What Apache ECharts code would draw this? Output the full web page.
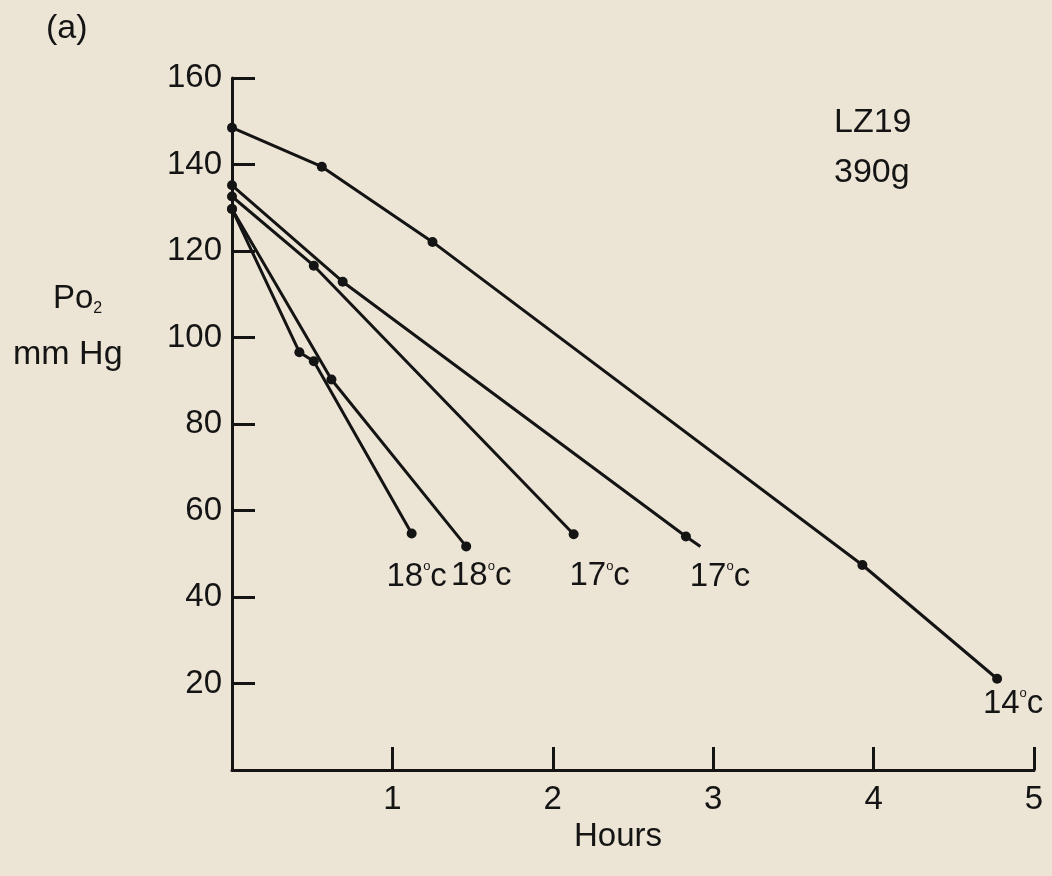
<!DOCTYPE html>
<html>
<head>
<meta charset="utf-8">
<script src="https://cdn.jsdelivr.net/npm/echarts@6/dist/echarts.min.js"></script>
<style>
  html, body { margin: 0; padding: 0; background: #ece5d6; }
  #chart { width: 1052px; height: 876px; }
</style>
</head>
<body>
<div id="chart"></div>
<script>
// ---- data ----
const xTicks = [1, 2, 3, 4, 5];
const yTicks = [20, 40, 60, 80, 100, 120, 140, 160];

const hours14 = [0, 0.56, 1.25, 3.93, 4.77];
const po2_14  = [148.5, 139.5, 122.1, 47.4, 21.1];

const hours17b = [0, 0.69, 2.83, 2.92];
const po2_17b  = [135.2, 112.9, 54.0, 51.7];   // last value: line end, no marker

const hours17a = [0, 0.51, 2.13];
const po2_17a  = [132.6, 116.6, 54.5];

const hours18a = [0, 0.42, 0.51, 1.12];
const po2_18a  = [129.7, 96.6, 94.5, 54.7];

const hours18b = [0, 0.62, 1.46];
const po2_18b  = [129.7, 90.3, 51.7];

const temps = { s14: '14', s17b: '17', s17a: '17', s18a: '18', s18b: '18' };

// ---- styling ----
const FONT = "'Liberation Sans', Arial, sans-serif";
const INK = '#141414';
const FS = 33;

function makeSeries(name, xs, ys, temp, labelIndex, offset) {
  const data = xs.map((x, i) => ({ value: [x, ys[i]] }));
  for (let i = labelIndex + 1; i < data.length; i++) {
    data[i].symbol = 'none';
  }
  data[labelIndex].label = {
    show: true,
    position: 'inside',
    offset: offset,
    formatter: '{n|' + temp + '}{d|o}{n|c}',
    rich: {
      n: { fontSize: FS, fontFamily: FONT, color: INK, verticalAlign: 'bottom' },
      d: { fontSize: 13, fontFamily: FONT, color: INK, padding: [0, 0, 20, 0], verticalAlign: 'bottom' }
    },
    align: 'center',
    verticalAlign: 'middle'
  };
  return {
    name: name,
    type: 'line',
    data: data,
    symbol: 'circle',
    symbolSize: 10,
    showSymbol: true,
    lineStyle: { color: INK, width: 3 },
    itemStyle: { color: INK },
    label: { show: false },
    emphasis: { disabled: true },
    z: 3
  };
}

const chart = echarts.init(document.getElementById('chart'), null, { renderer: 'canvas' });

chart.setOption({
  backgroundColor: '#ece5d6',
  animation: false,
  textStyle: { fontFamily: FONT, color: INK },
  grid: { left: 232, right: 18, top: 78, bottom: 106, containLabel: false },
  xAxis: {
    type: 'value',
    min: 0, max: 5, interval: 1,
    name: 'Hours',
    nameLocation: 'middle',
    nameGap: 44,
    nameTextStyle: { fontSize: FS, color: INK, fontFamily: FONT, padding: [0, 30, 0, 0] },
    axisLine: { show: true, onZero: false, lineStyle: { color: INK, width: 3 } },
    axisTick: { show: true, inside: true, length: 23, lineStyle: { color: INK, width: 3 }, customValues: xTicks },
    axisLabel: { show: true, margin: 13, fontSize: FS, color: INK, fontFamily: FONT, customValues: xTicks },
    splitLine: { show: false }
  },
  yAxis: {
    type: 'value',
    min: 0, max: 160, interval: 20,
    axisLine: { show: true, onZero: false, lineStyle: { color: INK, width: 3 } },
    axisTick: { show: true, inside: true, length: 23, lineStyle: { color: INK, width: 3 }, customValues: yTicks },
    axisLabel: { show: true, margin: 10, fontSize: FS, color: INK, fontFamily: FONT, customValues: yTicks },
    splitLine: { show: false }
  },
  graphic: [
    { type: 'text', left: 46, top: 12, style: { text: '(a)', font: "34px 'Liberation Sans', Arial", fill: INK } },
    { type: 'text', left: 53, top: 282, style: {
        text: '{m|Po}{s|2}',
        rich: {
          m: { fontSize: FS, fontFamily: FONT, fill: INK },
          s: { fontSize: 16, fontFamily: FONT, fill: INK, padding: [20, 0, 0, 0] }
        } } },
    { type: 'text', left: 13, top: 338, style: { text: 'mm Hg', font: "34px 'Liberation Sans', Arial", fill: INK } },
    { type: 'text', left: 834, top: 106, style: { text: 'LZ19', font: "34px 'Liberation Sans', Arial", fill: INK } },
    { type: 'text', left: 834, top: 156, style: { text: '390g', font: "34px 'Liberation Sans', Arial", fill: INK } }
  ],
  series: [
    makeSeries('14C', hours14, po2_14, temps.s14, 4, [16, 25]),
    makeSeries('17C far', hours17b, po2_17b, temps.s17b, 2, [34, 40]),
    makeSeries('17C near', hours17a, po2_17a, temps.s17a, 2, [26, 42]),
    makeSeries('18C a', hours18a, po2_18a, temps.s18a, 3, [5, 43]),
    makeSeries('18C b', hours18b, po2_18b, temps.s18b, 2, [15, 30])
  ]
});
</script>
</body>
</html>
